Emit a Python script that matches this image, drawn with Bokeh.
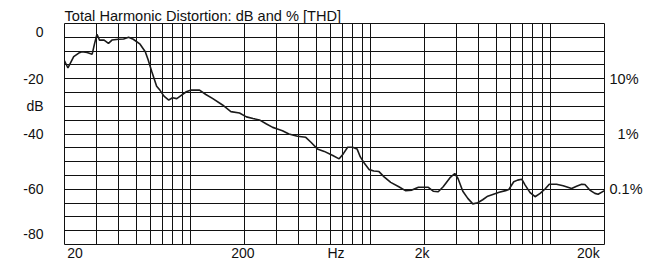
from bokeh.plotting import figure
from bokeh.models import Range1d, FixedTicker, LinearAxis, Title
from bokeh.embed import file_html
from bokeh.resources import INLINE

# ---- data ----
freq_hz = [20, 20.9, 22.5, 24.0, 25.0, 26.7, 28.5, 29.4, 30.3, 31.3, 33.2, 35.1, 36.7,
           39.9, 42.6, 45.4, 48.2, 52.6, 56.2, 58.3, 61.0, 65.0, 67.9, 71.4, 75.9, 79.7,
           84.1, 89.1, 95.0, 101, 112.5, 122, 133.4, 151, 168, 187.6, 205, 223, 242,
           265, 287, 305, 325, 353, 394, 438, 468, 508, 555, 619, 671, 707, 748, 797,
           844, 880, 929, 987, 1046, 1117, 1193, 1298, 1440, 1567, 1703, 1850, 2100,
           2235, 2384, 2540, 2765, 2945, 3070, 3265, 3480, 3710, 3950, 4210, 4490,
           4880, 5200, 5640, 5880, 6265, 6580, 6950, 7250, 7720, 8230, 8780, 9350,
           9870, 10830, 11790, 13130, 13990, 14930, 15570, 16570, 17690, 18430, 20000]
thd_db = [-13.5, -16.1, -12.0, -10.7, -10.2, -10.5, -11.1, -7.2, -3.9, -6.0, -6.0, -7.2, -6.0,
          -5.7, -5.6, -5.0, -5.7, -7.5, -10.2, -13.1, -17.3, -22.7, -24.2, -26.3, -27.7, -26.9,
          -27.2, -26.0, -24.7, -24.1, -24.1, -25.7, -27.2, -29.5, -31.9, -32.4, -33.8, -34.4, -34.9,
          -36.4, -37.6, -38.2, -38.8, -40.0, -40.8, -41.2, -43.0, -45.4, -46.3, -47.8, -49.0, -47.2,
          -44.8, -44.8, -45.4, -48.3, -50.7, -52.9, -53.4, -53.6, -55.5, -57.5, -59.1, -60.5, -60.3,
          -59.3, -59.3, -60.7, -60.9, -59.1, -55.9, -54.3, -56.1, -60.7, -63.3, -65.3, -64.9, -63.8,
          -62.5, -61.7, -61.1, -60.5, -60.1, -57.3, -56.7, -56.4, -58.5, -61.2, -62.7, -61.5, -59.9,
          -58.2, -58.2, -58.7, -59.7, -58.9, -58.2, -58.3, -60.3, -61.5, -61.8, -60.5]

grid_freqs = [30, 40, 50, 60, 70, 80, 90, 100, 200, 300, 400, 500, 600, 700, 800, 900,
              1000, 2000, 3000, 4000, 5000, 6000, 7000, 8000, 9000, 10000]
grid_db = [-5, -10, -15, -20, -25, -30, -35, -40, -45, -50, -55, -60, -65, -70, -75]

x_label_pos = [22.9, 196, 645, 1940, 16270]
x_label_text = ["20", "200", "Hz", "2k", "20k"]
y_label_pos = [-3.0, -20, -30, -40, -60, -76.3]
y_label_text = ["0", "-20", "dB", "-40", "-60", "-80"]
pct_pos = [-20, -40, -60]
pct_text = ["10%", "\u20071%", "0.1%"]

FONT = "Liberation Sans"
FS = "14px"

p = figure(width=645, height=263, x_axis_type="log",
           x_range=Range1d(20, 20000), y_range=Range1d(-80, 0),
           output_backend="svg", toolbar_location=None,
           min_border_left=64, min_border_right=38, min_border_top=23, min_border_bottom=16)

p.title = Title(text="Total Harmonic Distortion: dB and % [THD]", text_font=FONT,
                text_font_size="14.6px", text_font_style="normal", text_color="#111111",
                align="left", offset=0, standoff=0)

p.background_fill_color = "white"
p.border_fill_color = "white"
p.outline_line_color = "#111111"
p.outline_line_width = 1

# grids
p.xgrid.ticker = FixedTicker(ticks=grid_freqs)
p.ygrid.ticker = FixedTicker(ticks=grid_db)
for g in (p.xgrid, p.ygrid):
    g.grid_line_color = "#111111"
    g.grid_line_width = 1
    g.grid_line_alpha = 1.0

def style_axis(ax):
    ax.axis_line_color = None
    ax.major_tick_line_color = None
    ax.minor_tick_line_color = None
    ax.major_tick_out = 0
    ax.major_tick_in = 0
    ax.minor_tick_out = 0
    ax.minor_tick_in = 0
    ax.major_label_text_font = FONT
    ax.major_label_text_font_size = FS
    ax.major_label_text_color = "#111111"

# bottom axis
xa = p.xaxis[0]
xa.ticker = FixedTicker(ticks=x_label_pos)
xa.major_label_overrides = dict(zip(x_label_pos, x_label_text))
style_axis(xa)
xa.major_label_standoff = 0

# left axis
ya = p.yaxis[0]
ya.ticker = FixedTicker(ticks=y_label_pos)
ya.major_label_overrides = dict(zip(y_label_pos, y_label_text))
style_axis(ya)
ya.major_label_standoff = 21

# right axis (percent)
ra = LinearAxis(ticker=FixedTicker(ticks=pct_pos),
                major_label_overrides=dict(zip(pct_pos, pct_text)))
style_axis(ra)
ra.major_label_standoff = 5
ra.major_label_text_font_size = "14.5px"
p.add_layout(ra, "right")

p.line(freq_hz, thd_db, line_color="#1a1a1a", line_width=1.6)

open("out.html", "w").write(file_html(p, INLINE))
